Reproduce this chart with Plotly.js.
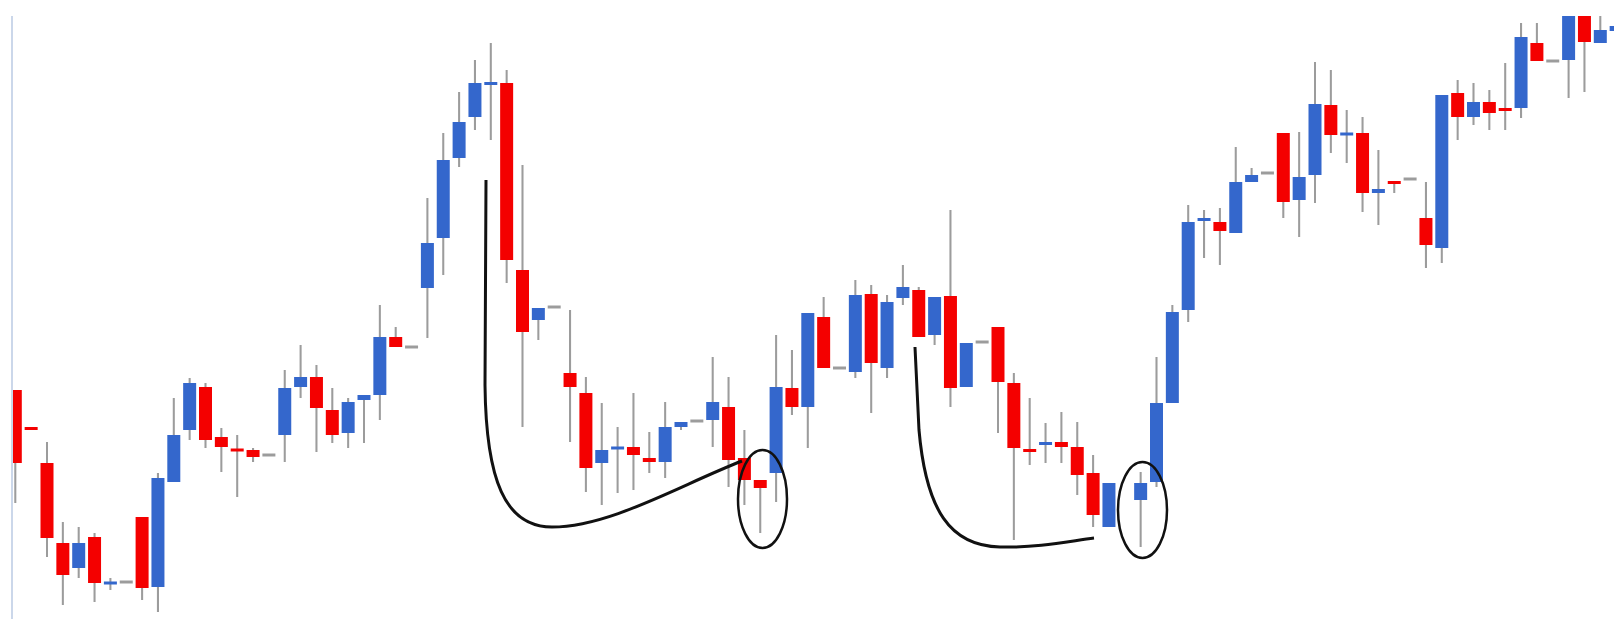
<!DOCTYPE html>
<html>
<head>
<meta charset="utf-8">
<script src="https://cdn.plot.ly/plotly-3.0.1.min.js"></script>
<style>
  html, body { margin: 0; padding: 0; background: #ffffff; }
  #chart { width: 1614px; height: 619px; }
</style>
</head>
<body>
<div id="chart"></div>
<script>
// OHLC values (arbitrary price units, no axis shown)
const openPrices  = [229,192,156,76,51,82,35,37,102,32, 137,189,232,182,170,169,164,184,232,242, 209,186,219,224,282,272,331,381,461,502, 534,536,349,299,312,246,226,156,170,172, 161,157,192,198,199,212,161,139,146,231, 212,302,251,247,325,251,321,329,284,323, 232,277,292,236,170,174,177,172,146,92, null,119,137,216,309,398,397,386,437,446, 486,419,444,514,484,486,426,438,440,401, 371,526,502,517,511,511,576,558,559,611, 576,588];
const highPrices  = [229,192,177,97,92,86,41,37,102,146, 221,241,236,191,184,171,164,249,274,254, 231,221,224,314,292,272,421,486,527,559, 576,549,454,311,312,309,242,216,192,226, 187,217,197,198,262,242,189,139,284,269, 306,322,251,339,334,324,354,332,322,409, 276,277,292,246,221,196,207,197,164,136, null,147,262,314,414,409,411,472,451,446, 486,487,557,549,509,502,469,438,440,437, 524,539,536,529,556,596,596,558,619,619, 614,599];
const lowPrices   = [116,189,62,14,41,17,29,37,19,7, 137,179,171,147,122,157,164,157,221,167, 176,171,176,199,272,272,281,344,452,489, 479,336,192,279,312,177,127,114,126,129, 146,141,189,198,172,132,114,86,117,204, 171,251,251,241,206,241,314,282,274,212, 232,277,186,79,154,156,156,124,92,92, null,72,132,216,297,361,354,386,437,446, 401,382,416,466,456,407,394,426,440,351, 356,479,494,489,489,501,558,558,521,527, 576,584];
const closePrices = [156,189,81,44,76,36,37,37,31,141, 184,236,179,172,168,162,164,231,242,211, 184,217,224,282,272,272,376,459,497,536, 537,359,287,311,312,232,151,169,172,164, 157,192,197,198,217,159,139,131,232,212, 306,251,251,324,256,317,332,282,322,231, 276,277,237,171,167,177,172,144,104,136, null,136,216,307,397,401,388,437,444,446, 417,442,515,484,486,426,430,435,440,374, 524,502,517,506,508,582,558,558,614,577, 589,593];

const periods = openPrices.map((_, i) => i);

const UP = '#3467cc', DOWN = '#f40000', FLAT = '#9c9c9c', WICK = '#9c9c9c';

const bodyBase = [], bodyLen = [], bodyColor = [], wickBase = [], wickLen = [];
for (let i = 0; i < periods.length; i++) {
  const o = openPrices[i], c = closePrices[i], h = highPrices[i], l = lowPrices[i];
  if (o === null) { bodyBase.push(null); bodyLen.push(null); bodyColor.push(FLAT); wickBase.push(null); wickLen.push(null); continue; }
  const lo = Math.min(o, c), hi = Math.max(o, c);
  const len = Math.max(hi - lo, 3);
  const mid = (hi + lo) / 2;
  bodyBase.push(mid - len / 2);
  bodyLen.push(len);
  bodyColor.push(c > o ? UP : (c < o ? DOWN : FLAT));
  wickBase.push(l);
  wickLen.push(h - l);
}

const wickTrace = {
  type: 'bar', x: periods, base: wickBase, y: wickLen, width: 0.13,
  marker: { color: WICK, line: { width: 0 } }, hoverinfo: 'skip'
};
const bodyTrace = {
  type: 'bar', x: periods, base: bodyBase, y: bodyLen, width: 0.82,
  marker: { color: bodyColor, line: { width: 0 } },
  customdata: periods.map(i => [openPrices[i], highPrices[i], lowPrices[i], closePrices[i]]),
  hovertemplate: 'O %{customdata[0]}<br>H %{customdata[1]}<br>L %{customdata[2]}<br>C %{customdata[3]}<extra></extra>'
};

// pixel-position helpers for the hand-drawn annotation marks
const X0 = 15.3, DX = 15.85, H = 619;
const px = p => (p - X0) / DX;
const py = p => H - p;
const pt = (a, b) => px(a).toFixed(3) + ',' + py(b).toFixed(1);

const curve1 = 'M ' + pt(486, 180) + ' L ' + pt(485, 385) +
  ' C ' + pt(486, 480) + ' ' + pt(505, 527) + ' ' + pt(552, 527) +
  ' C ' + pt(610, 527) + ' ' + pt(680, 485) + ' ' + pt(742, 461);
const curve2 = 'M ' + pt(915, 347) + ' L ' + pt(919, 430) +
  ' C ' + pt(926, 510) + ' ' + pt(950, 546) + ' ' + pt(1000, 547) +
  ' C ' + pt(1040, 548) + ' ' + pt(1070, 541) + ' ' + pt(1094, 538);

const shapes = [
  { type: 'path', xref: 'x', yref: 'y', path: curve1, line: { color: '#111111', width: 3 }, layer: 'above' },
  { type: 'path', xref: 'x', yref: 'y', path: curve2, line: { color: '#111111', width: 3 }, layer: 'above' },
  { type: 'circle', xref: 'x', yref: 'y', x0: px(738), x1: px(787), y0: py(450), y1: py(548), line: { color: '#111111', width: 2.5 }, layer: 'above' },
  { type: 'circle', xref: 'x', yref: 'y', x0: px(1118), x1: px(1167), y0: py(462), y1: py(558), line: { color: '#111111', width: 2.5 }, layer: 'above' }
];

const layout = {
  width: 1614, height: 619,
  margin: { l: 13, r: 0, t: 16, b: 0, pad: 0 },
  paper_bgcolor: '#ffffff', plot_bgcolor: '#ffffff',
  barmode: 'overlay', showlegend: false,
  xaxis: { range: [px(13), px(1614)], showgrid: false, zeroline: false, showticklabels: false, ticks: '', showline: false },
  yaxis: { range: [0, 603], showgrid: false, zeroline: false, showticklabels: false, ticks: '',
           showline: true, linecolor: '#cbd7ea', linewidth: 2 },
  shapes: shapes
};

Plotly.newPlot('chart', [wickTrace, bodyTrace], layout, { displayModeBar: false, staticPlot: true });
</script>
</body>
</html>
